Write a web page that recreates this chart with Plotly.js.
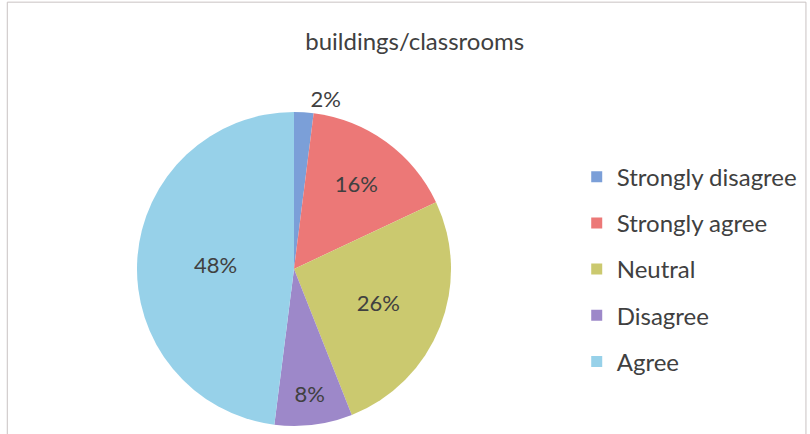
<!DOCTYPE html>
<html><head><meta charset="utf-8">
<script src="https://cdn.plot.ly/plotly-3.0.1.min.js"></script>
<style>html,body{margin:0;padding:0;background:#fff}</style>
</head><body>
<div id="chart" style="width:810px;height:434px"></div>
<script>
const categories = ["Strongly disagree", "Strongly agree", "Neutral", "Disagree", "Agree"];
const values = [2, 16, 26, 8, 48];
const colors = ["#7b9fd8", "#ec7877", "#cbc96f", "#9d88c9", "#97d1e9"];
const textPositions = ["outside", "inside", "inside", "inside", "inside"];
const chartTitle = "buildings/classrooms";

const FONT = "Lato, 'Open Sans', sans-serif";

const traces = [{
  type: "pie",
  labels: categories,
  values: values,
  sort: false,
  direction: "clockwise",
  rotation: 0,
  marker: {colors: colors, line: {width: 0}},
  texttemplate: "%{value}%",
  textposition: textPositions,
  insidetextorientation: "horizontal",
  textfont: {family: FONT, size: 22, color: "#404040"},
  domain: {x: [136/810, 452/810], y: [8/434, 322/434]},
  showlegend: false,
  hoverinfo: "label+percent"
}];

categories.forEach((c, i) => {
  traces.push({
    type: "scatter", mode: "markers",
    x: [null], y: [null],
    name: c,
    legendgroup: "g" + i,
    marker: {symbol: "square", size: 11, color: colors[i]},
    showlegend: true, hoverinfo: "skip"
  });
});

const layout = {
  width: 810, height: 434,
  margin: {l: 0, r: 0, t: 0, b: 0},
  paper_bgcolor: "#ffffff",
  plot_bgcolor: "rgba(0,0,0,0)",
  font: {family: FONT, color: "#404040"},
  title: {text: chartTitle, x: 0.512, xanchor: "center", y: 0.905, yanchor: "middle",
          font: {family: FONT, size: 24, color: "#404040"}},
  xaxis: {visible: false}, yaxis: {visible: false},
  legend: {x: 0.712, y: 0.38, xanchor: "left", yanchor: "middle",
           font: {family: FONT, size: 24, color: "#404040"},
           tracegroupgap: 12, itemwidth: 30, bgcolor: "rgba(0,0,0,0)"},
  shapes: [{type: "rect", xref: "paper", yref: "paper", x0: 0.009, x1: 0.995, y0: -0.01, y1: 0.995,
            line: {color: "#c9c2c2", width: 1}}]
};

Plotly.newPlot("chart", traces, layout, {displayModeBar: false, staticPlot: true});
</script>
</body></html>
